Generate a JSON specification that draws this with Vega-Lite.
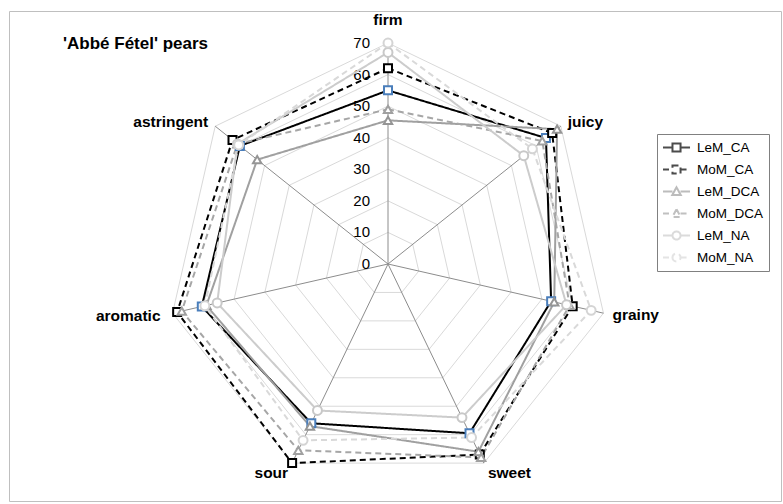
{
  "$schema": "https://vega.github.io/schema/vega-lite/v6.json",
  "width": 772,
  "height": 490,
  "autosize": "none",
  "padding": {"left": 9, "top": 11, "right": 2, "bottom": 3},
  "background": "white",
  "title": {"text": "'Abbé Fétel' pears", "anchor": "start", "frame": "group", "orient": "top", "offset": 0, "dx": 54, "dy": 50, "baseline": "middle", "fontSize": 17, "fontWeight": "bold", "font": "Liberation Sans", "color": "#000000"},
  "datasets": {
    "ratings": [
      {"attr": "firm", "series": "LeM_CA", "value": 55},
      {"attr": "firm", "series": "MoM_CA", "value": 62},
      {"attr": "firm", "series": "LeM_DCA", "value": 45.5},
      {"attr": "firm", "series": "MoM_DCA", "value": 49},
      {"attr": "firm", "series": "LeM_NA", "value": 67},
      {"attr": "firm", "series": "MoM_NA", "value": 70},
      {"attr": "juicy", "series": "LeM_CA", "value": 64},
      {"attr": "juicy", "series": "MoM_CA", "value": 66.5},
      {"attr": "juicy", "series": "LeM_DCA", "value": 68.5},
      {"attr": "juicy", "series": "MoM_DCA", "value": 62.5},
      {"attr": "juicy", "series": "LeM_NA", "value": 55},
      {"attr": "juicy", "series": "MoM_NA", "value": 58.5},
      {"attr": "grainy", "series": "LeM_CA", "value": 53},
      {"attr": "grainy", "series": "MoM_CA", "value": 60},
      {"attr": "grainy", "series": "LeM_DCA", "value": 54},
      {"attr": "grainy", "series": "MoM_DCA", "value": 59},
      {"attr": "grainy", "series": "LeM_NA", "value": 58},
      {"attr": "grainy", "series": "MoM_NA", "value": 66},
      {"attr": "sweet", "series": "LeM_CA", "value": 59.5},
      {"attr": "sweet", "series": "MoM_CA", "value": 67},
      {"attr": "sweet", "series": "LeM_DCA", "value": 66},
      {"attr": "sweet", "series": "MoM_DCA", "value": 68},
      {"attr": "sweet", "series": "LeM_NA", "value": 54},
      {"attr": "sweet", "series": "MoM_NA", "value": 61},
      {"attr": "sour", "series": "LeM_CA", "value": 56},
      {"attr": "sour", "series": "MoM_CA", "value": 70},
      {"attr": "sour", "series": "LeM_DCA", "value": 57},
      {"attr": "sour", "series": "MoM_DCA", "value": 65.5},
      {"attr": "sour", "series": "LeM_NA", "value": 51.5},
      {"attr": "sour", "series": "MoM_NA", "value": 62},
      {"attr": "aromatic", "series": "LeM_CA", "value": 60.5},
      {"attr": "aromatic", "series": "MoM_CA", "value": 68.5},
      {"attr": "aromatic", "series": "LeM_DCA", "value": 59},
      {"attr": "aromatic", "series": "MoM_DCA", "value": 67},
      {"attr": "aromatic", "series": "LeM_NA", "value": 55.5},
      {"attr": "aromatic", "series": "MoM_NA", "value": 59.5},
      {"attr": "astringent", "series": "LeM_CA", "value": 60},
      {"attr": "astringent", "series": "MoM_CA", "value": 63},
      {"attr": "astringent", "series": "LeM_DCA", "value": 53},
      {"attr": "astringent", "series": "MoM_DCA", "value": 61},
      {"attr": "astringent", "series": "LeM_NA", "value": 61},
      {"attr": "astringent", "series": "MoM_NA", "value": 60.5}
    ],
    "grid": [
      {"level": 0, "attr": ["firm", "juicy", "grainy", "sweet", "sour", "aromatic", "astringent"]},
      {"level": 10, "attr": ["firm", "juicy", "grainy", "sweet", "sour", "aromatic", "astringent"]},
      {"level": 20, "attr": ["firm", "juicy", "grainy", "sweet", "sour", "aromatic", "astringent"]},
      {"level": 30, "attr": ["firm", "juicy", "grainy", "sweet", "sour", "aromatic", "astringent"]},
      {"level": 40, "attr": ["firm", "juicy", "grainy", "sweet", "sour", "aromatic", "astringent"]},
      {"level": 50, "attr": ["firm", "juicy", "grainy", "sweet", "sour", "aromatic", "astringent"]},
      {"level": 60, "attr": ["firm", "juicy", "grainy", "sweet", "sour", "aromatic", "astringent"]},
      {"level": 70, "attr": ["firm", "juicy", "grainy", "sweet", "sour", "aromatic", "astringent"]}
    ]
  },
  "encoding": {
    "x": {"field": "px", "type": "quantitative", "scale": {"domain": [-120.05, 124.48], "nice": false, "zero": false}, "axis": null},
    "y": {"field": "py", "type": "quantitative", "scale": {"domain": [-75.07, 80.14], "nice": false, "zero": false}, "axis": null}
  },
  "layer": [
    {
      "data": {"name": "grid"},
      "transform": [
        {"flatten": ["attr"]},
        {"filter": "datum.level > 0"},
        {"calculate": "indexof(['firm','juicy','grainy','sweet','sour','aromatic','astringent'], datum.attr)", "as": "idx"},
        {"calculate": "datum.level * sin(datum.idx * 2 * PI / 7)", "as": "px"},
        {"calculate": "datum.level * cos(datum.idx * 2 * PI / 7)", "as": "py"}
      ],
      "mark": {"type": "line", "interpolate": "linear-closed", "color": "#d9d9d9", "strokeWidth": 1},
      "encoding": {"detail": {"field": "level", "type": "nominal"}, "order": {"field": "idx", "type": "quantitative"}}
    },
    {
      "data": {"name": "grid"},
      "transform": [
        {"flatten": ["attr"]},
        {"filter": "datum.level == 70"},
        {"calculate": "indexof(['firm','juicy','grainy','sweet','sour','aromatic','astringent'], datum.attr)", "as": "idx"},
        {"calculate": "datum.level * sin(datum.idx * 2 * PI / 7)", "as": "px"},
        {"calculate": "datum.level * cos(datum.idx * 2 * PI / 7)", "as": "py"}
      ],
      "mark": {"type": "rule", "color": "#8c8c8c", "strokeWidth": 1},
      "encoding": {"x2": {"datum": 0}, "y2": {"datum": 0}}
    },
    {
      "data": {"name": "grid"},
      "transform": [
        {"flatten": ["attr"]},
        {"filter": "datum.attr == 'firm'"},
        {"calculate": "0", "as": "px"},
        {"calculate": "datum.level", "as": "py"}
      ],
      "mark": {"type": "text", "align": "right", "baseline": "middle", "dx": -18, "font": "Liberation Sans", "fontSize": 15, "color": "#000000"},
      "encoding": {"text": {"field": "level", "type": "quantitative"}}
    },
    {
      "data": {"name": "ratings"},
      "transform": [
        {"calculate": "indexof(['firm','juicy','grainy','sweet','sour','aromatic','astringent'], datum.attr)", "as": "idx"},
        {"calculate": "datum.value * sin(datum.idx * 2 * PI / 7)", "as": "px"},
        {"calculate": "datum.value * cos(datum.idx * 2 * PI / 7)", "as": "py"}
      ],
      "mark": {"type": "line", "interpolate": "linear-closed", "strokeWidth": 2},
      "encoding": {
        "color": {"field": "series", "type": "nominal", "title": null,
          "legend": {"orient": "none", "legendX": 648, "legendY": 123},
          "scale": {"domain": ["LeM_CA", "MoM_CA", "LeM_DCA", "MoM_DCA", "LeM_NA", "MoM_NA"], "range": ["#000000", "#000000", "#a0a0a0", "#a6a6a6", "#cccccc", "#d9d9d9"]}},
        "strokeDash": {"field": "series", "type": "nominal", "title": null,
          "legend": {"orient": "none", "legendX": 648, "legendY": 123},
          "scale": {"domain": ["LeM_CA", "MoM_CA", "LeM_DCA", "MoM_DCA", "LeM_NA", "MoM_NA"], "range": [[1, 0], [6, 4], [1, 0], [6, 4], [1, 0], [6, 4]]}},
        "order": {"field": "idx", "type": "quantitative"}
      }
    },
    {
      "data": {"name": "ratings"},
      "transform": [
        {"filter": "indexof(['LeM_CA','MoM_CA'], datum.series) >= 0"},
        {"calculate": "indexof(['firm','juicy','grainy','sweet','sour','aromatic','astringent'], datum.attr)", "as": "idx"},
        {"calculate": "datum.value * sin(datum.idx * 2 * PI / 7)", "as": "px"},
        {"calculate": "datum.value * cos(datum.idx * 2 * PI / 7)", "as": "py"}
      ],
      "mark": {"type": "point", "shape": "square", "filled": true, "fill": "white", "size": 64, "strokeWidth": 2, "opacity": 1},
      "encoding": {
        "stroke": {"field": "series", "type": "nominal", "legend": null,
          "scale": {"domain": ["MoM_NA", "LeM_NA", "MoM_DCA", "LeM_DCA", "MoM_CA", "LeM_CA"], "range": ["#d4d4d4", "#c8c8c8", "#a0a0a0", "#959595", "#000000", "#4a7ebb"]}}
      }
    },
    {
      "data": {"name": "ratings"},
      "transform": [
        {"filter": "indexof(['LeM_DCA','MoM_DCA'], datum.series) >= 0"},
        {"calculate": "indexof(['firm','juicy','grainy','sweet','sour','aromatic','astringent'], datum.attr)", "as": "idx"},
        {"calculate": "datum.value * sin(datum.idx * 2 * PI / 7)", "as": "px"},
        {"calculate": "datum.value * cos(datum.idx * 2 * PI / 7)", "as": "py"}
      ],
      "mark": {"type": "point", "shape": "triangle-up", "filled": true, "fill": "white", "size": 70, "strokeWidth": 2, "opacity": 1},
      "encoding": {
        "stroke": {"field": "series", "type": "nominal", "legend": null,
          "scale": {"domain": ["MoM_NA", "LeM_NA", "MoM_DCA", "LeM_DCA", "MoM_CA", "LeM_CA"], "range": ["#d4d4d4", "#c8c8c8", "#a0a0a0", "#959595", "#000000", "#4a7ebb"]}}
      }
    },
    {
      "data": {"name": "ratings"},
      "transform": [
        {"filter": "indexof(['LeM_NA','MoM_NA'], datum.series) >= 0"},
        {"calculate": "indexof(['firm','juicy','grainy','sweet','sour','aromatic','astringent'], datum.attr)", "as": "idx"},
        {"calculate": "datum.value * sin(datum.idx * 2 * PI / 7)", "as": "px"},
        {"calculate": "datum.value * cos(datum.idx * 2 * PI / 7)", "as": "py"}
      ],
      "mark": {"type": "point", "shape": "circle", "filled": true, "fill": "white", "size": 80, "strokeWidth": 2, "opacity": 1},
      "encoding": {
        "stroke": {"field": "series", "type": "nominal", "legend": null,
          "scale": {"domain": ["MoM_NA", "LeM_NA", "MoM_DCA", "LeM_DCA", "MoM_CA", "LeM_CA"], "range": ["#d4d4d4", "#c8c8c8", "#a0a0a0", "#959595", "#000000", "#4a7ebb"]}}
      }
    },
    {
      "data": {"name": "ratings"},
      "transform": [
        {"filter": "false"},
        {"calculate": "0", "as": "px"},
        {"calculate": "0", "as": "py"}
      ],
      "mark": {"type": "point", "filled": false, "size": 200, "strokeWidth": 2},
      "encoding": {
        "color": {"field": "series", "type": "nominal", "title": null,
          "legend": {"orient": "none", "legendX": 648, "legendY": 123},
          "scale": {"domain": ["LeM_CA", "MoM_CA", "LeM_DCA", "MoM_DCA", "LeM_NA", "MoM_NA"], "range": ["#000000", "#000000", "#a0a0a0", "#a6a6a6", "#cccccc", "#d9d9d9"]}},
        "strokeDash": {"field": "series", "type": "nominal", "title": null,
          "legend": {"orient": "none", "legendX": 648, "legendY": 123},
          "scale": {"domain": ["LeM_CA", "MoM_CA", "LeM_DCA", "MoM_DCA", "LeM_NA", "MoM_NA"], "range": [[1, 0], [6, 4], [1, 0], [6, 4], [1, 0], [6, 4]]}},
        "shape": {"field": "series", "type": "nominal", "title": null,
          "legend": {"orient": "none", "legendX": 648, "legendY": 123},
          "scale": {"domain": ["LeM_CA", "MoM_CA", "LeM_DCA", "MoM_DCA", "LeM_NA", "MoM_NA"],
            "range": [
              "M-1.06,0H0.28M1.42,0H2.76M0.28,-0.57H1.42V0.57H0.28Z",
              "M-1.06,0H0.28M1.42,0H2.76M0.28,-0.57H1.42V0.57H0.28Z",
              "M-1.06,0H0.28M1.42,0H2.76M0.85,-0.6L1.45,0.5H0.25Z",
              "M-1.06,0H0.28M1.42,0H2.76M0.85,-0.6L1.45,0.5H0.25Z",
              "M-1.06,0H0.28M1.42,0H2.76M0.28,0A0.57,0.57 0 1,0 1.42,0A0.57,0.57 0 1,0 0.28,0Z",
              "M-1.06,0H0.28M1.42,0H2.76M0.28,0A0.57,0.57 0 1,0 1.42,0A0.57,0.57 0 1,0 0.28,0Z"
            ]}}
      }
    },
    {
      "data": {"name": "grid"},
      "transform": [
        {"flatten": ["attr"]},
        {"filter": "datum.level == 70 && datum.attr == 'firm'"},
        {"calculate": "indexof(['firm','juicy','grainy','sweet','sour','aromatic','astringent'], datum.attr)", "as": "idx"},
        {"calculate": "datum.level * sin(datum.idx * 2 * PI / 7)", "as": "px"},
        {"calculate": "datum.level * cos(datum.idx * 2 * PI / 7)", "as": "py"}
      ],
      "mark": {"type": "text", "align": "center", "baseline": "middle", "dy": -23, "font": "Liberation Sans", "fontSize": 15.5, "fontWeight": "bold", "color": "#000000"},
      "encoding": {"text": {"field": "attr", "type": "nominal"}}
    },
    {
      "data": {"name": "grid"},
      "transform": [
        {"flatten": ["attr"]},
        {"filter": "datum.level == 70 && datum.attr == 'juicy'"},
        {"calculate": "indexof(['firm','juicy','grainy','sweet','sour','aromatic','astringent'], datum.attr)", "as": "idx"},
        {"calculate": "datum.level * sin(datum.idx * 2 * PI / 7)", "as": "px"},
        {"calculate": "datum.level * cos(datum.idx * 2 * PI / 7)", "as": "py"}
      ],
      "mark": {"type": "text", "align": "left", "baseline": "middle", "dx": 7, "dy": -4, "font": "Liberation Sans", "fontSize": 15.5, "fontWeight": "bold", "color": "#000000"},
      "encoding": {"text": {"field": "attr", "type": "nominal"}}
    },
    {
      "data": {"name": "grid"},
      "transform": [
        {"flatten": ["attr"]},
        {"filter": "datum.level == 70 && datum.attr == 'grainy'"},
        {"calculate": "indexof(['firm','juicy','grainy','sweet','sour','aromatic','astringent'], datum.attr)", "as": "idx"},
        {"calculate": "datum.level * sin(datum.idx * 2 * PI / 7)", "as": "px"},
        {"calculate": "datum.level * cos(datum.idx * 2 * PI / 7)", "as": "py"}
      ],
      "mark": {"type": "text", "align": "left", "baseline": "middle", "dx": 9, "dy": 2, "font": "Liberation Sans", "fontSize": 15.5, "fontWeight": "bold", "color": "#000000"},
      "encoding": {"text": {"field": "attr", "type": "nominal"}}
    },
    {
      "data": {"name": "grid"},
      "transform": [
        {"flatten": ["attr"]},
        {"filter": "datum.level == 70 && datum.attr == 'sweet'"},
        {"calculate": "indexof(['firm','juicy','grainy','sweet','sour','aromatic','astringent'], datum.attr)", "as": "idx"},
        {"calculate": "datum.level * sin(datum.idx * 2 * PI / 7)", "as": "px"},
        {"calculate": "datum.level * cos(datum.idx * 2 * PI / 7)", "as": "py"}
      ],
      "mark": {"type": "text", "align": "left", "baseline": "middle", "dx": 4, "dy": 10, "font": "Liberation Sans", "fontSize": 15.5, "fontWeight": "bold", "color": "#000000"},
      "encoding": {"text": {"field": "attr", "type": "nominal"}}
    },
    {
      "data": {"name": "grid"},
      "transform": [
        {"flatten": ["attr"]},
        {"filter": "datum.level == 70 && datum.attr == 'sour'"},
        {"calculate": "indexof(['firm','juicy','grainy','sweet','sour','aromatic','astringent'], datum.attr)", "as": "idx"},
        {"calculate": "datum.level * sin(datum.idx * 2 * PI / 7)", "as": "px"},
        {"calculate": "datum.level * cos(datum.idx * 2 * PI / 7)", "as": "py"}
      ],
      "mark": {"type": "text", "align": "right", "baseline": "middle", "dx": -4, "dy": 10, "font": "Liberation Sans", "fontSize": 15.5, "fontWeight": "bold", "color": "#000000"},
      "encoding": {"text": {"field": "attr", "type": "nominal"}}
    },
    {
      "data": {"name": "grid"},
      "transform": [
        {"flatten": ["attr"]},
        {"filter": "datum.level == 70 && datum.attr == 'aromatic'"},
        {"calculate": "indexof(['firm','juicy','grainy','sweet','sour','aromatic','astringent'], datum.attr)", "as": "idx"},
        {"calculate": "datum.level * sin(datum.idx * 2 * PI / 7)", "as": "px"},
        {"calculate": "datum.level * cos(datum.idx * 2 * PI / 7)", "as": "py"}
      ],
      "mark": {"type": "text", "align": "right", "baseline": "middle", "dx": -12, "dy": 3, "font": "Liberation Sans", "fontSize": 15.5, "fontWeight": "bold", "color": "#000000"},
      "encoding": {"text": {"field": "attr", "type": "nominal"}}
    },
    {
      "data": {"name": "grid"},
      "transform": [
        {"flatten": ["attr"]},
        {"filter": "datum.level == 70 && datum.attr == 'astringent'"},
        {"calculate": "indexof(['firm','juicy','grainy','sweet','sour','aromatic','astringent'], datum.attr)", "as": "idx"},
        {"calculate": "datum.level * sin(datum.idx * 2 * PI / 7)", "as": "px"},
        {"calculate": "datum.level * cos(datum.idx * 2 * PI / 7)", "as": "py"}
      ],
      "mark": {"type": "text", "align": "right", "baseline": "middle", "dx": -7, "dy": -4, "font": "Liberation Sans", "fontSize": 15.5, "fontWeight": "bold", "color": "#000000"},
      "encoding": {"text": {"field": "attr", "type": "nominal"}}
    }
  ],
  "config": {
    "view": {"stroke": "#bfbfbf", "strokeWidth": 1},
    "legend": {
      "orient": "none",
      "strokeColor": "#808080",
      "fillColor": "white",
      "padding": 5,
      "labelFont": "Liberation Sans",
      "labelFontSize": 13.5,
      "labelColor": "#000000",
      "symbolSize": 200,
      "symbolStrokeWidth": 2,
      "labelOffset": 18,
      "rowPadding": 5
    }
  }
}
